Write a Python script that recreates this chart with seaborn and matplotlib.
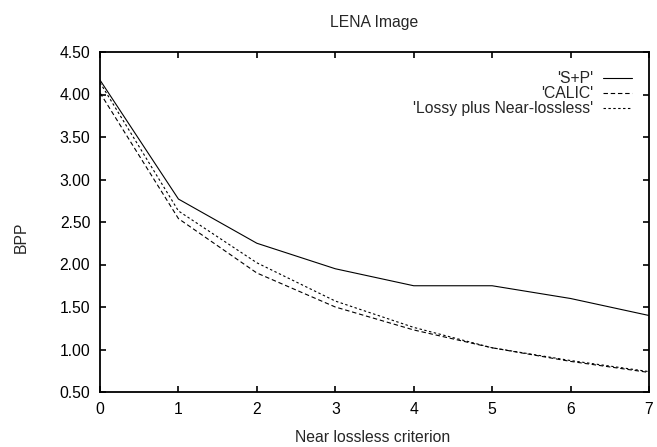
import matplotlib
matplotlib.use("Agg")
import matplotlib.pyplot as plt
import seaborn as sns
import pandas as pd
from matplotlib.ticker import FormatStrFormatter

criterion = [0, 1, 2, 3, 4, 5, 6, 7]
sp_values = [4.17, 2.77, 2.25, 1.95, 1.75, 1.75, 1.60, 1.40]
calic_values = [4.02, 2.54, 1.90, 1.50, 1.23, 1.02, 0.86, 0.73]
lossy_values = [4.14, 2.63, 2.02, 1.57, 1.26, 1.02, 0.87, 0.74]
series_names = ["'S+P'", "'CALIC'", "'Lossy plus Near-lossless'"]
yticks = [0.5, 1.0, 1.5, 2.0, 2.5, 3.0, 3.5, 4.0, 4.5]

df = pd.DataFrame({
    "x": criterion * 3,
    "y": sp_values + calic_values + lossy_values,
    "series": [series_names[0]] * 8 + [series_names[1]] * 8 + [series_names[2]] * 8,
})

sns.set_style("ticks")
plt.rcParams['font.family'] = ['Liberation Sans', 'DejaVu Sans']
FS = 11.3
plt.rcParams['font.size'] = FS

fig = plt.figure(figsize=(6.57, 4.47), dpi=100)
L, R, T, B = 100, 649, 52, 392
W, H = 657, 447
ax = fig.add_axes([L / W, 1 - B / H, (R - L) / W, (B - T) / H])

dashes = {series_names[0]: "", series_names[1]: (4, 2.5), series_names[2]: (2.2, 2.2)}
sns.lineplot(data=df, x="x", y="y", style="series", dashes=dashes, color="black",
             linewidth=0.8, ax=ax, legend=True, markers=False)

ax.set_xlim(0, 7)
ax.set_ylim(0.5, 4.5)
ax.set_xticks(criterion)
ax.set_yticks(yticks)
ax.yaxis.set_major_formatter(FormatStrFormatter("%.2f"))
ax.tick_params(direction="in", length=4.5, width=1.2, top=True, right=True, colors="black",
               labelsize=FS)
ax.tick_params(axis="x", pad=7)
ax.tick_params(axis="y", pad=7)
for s in ax.spines.values():
    s.set_visible(True)
    s.set_linewidth(1.3)
    s.set_color("black")

ax.set_title("LENA Image", fontsize=FS, pad=0, y=(B - 27) / (B - T))
ax.set_xlabel("Near lossless criterion", fontsize=FS)
ax.xaxis.label.set_va("center")
ax.xaxis.set_label_coords((373 - L) / (R - L), (B - 437) / (B - T))
ax.set_ylabel("BPP", fontsize=FS)
ax.yaxis.label.set_va("center")
ax.yaxis.label.set_ha("center")
ax.yaxis.set_label_coords((21 - L) / (R - L), (B - 237) / (B - T))

handles, labels = ax.get_legend_handles_labels()
ax.legend(handles, labels, loc="upper right",
          bbox_to_anchor=((638.3 - L) / (R - L), (B - 65) / (B - T)),
          borderaxespad=0, frameon=False, markerfirst=False, handlelength=1.85,
          labelspacing=0.0, handletextpad=0.64, fontsize=FS)

fig.savefig("out.png", dpi=100)
